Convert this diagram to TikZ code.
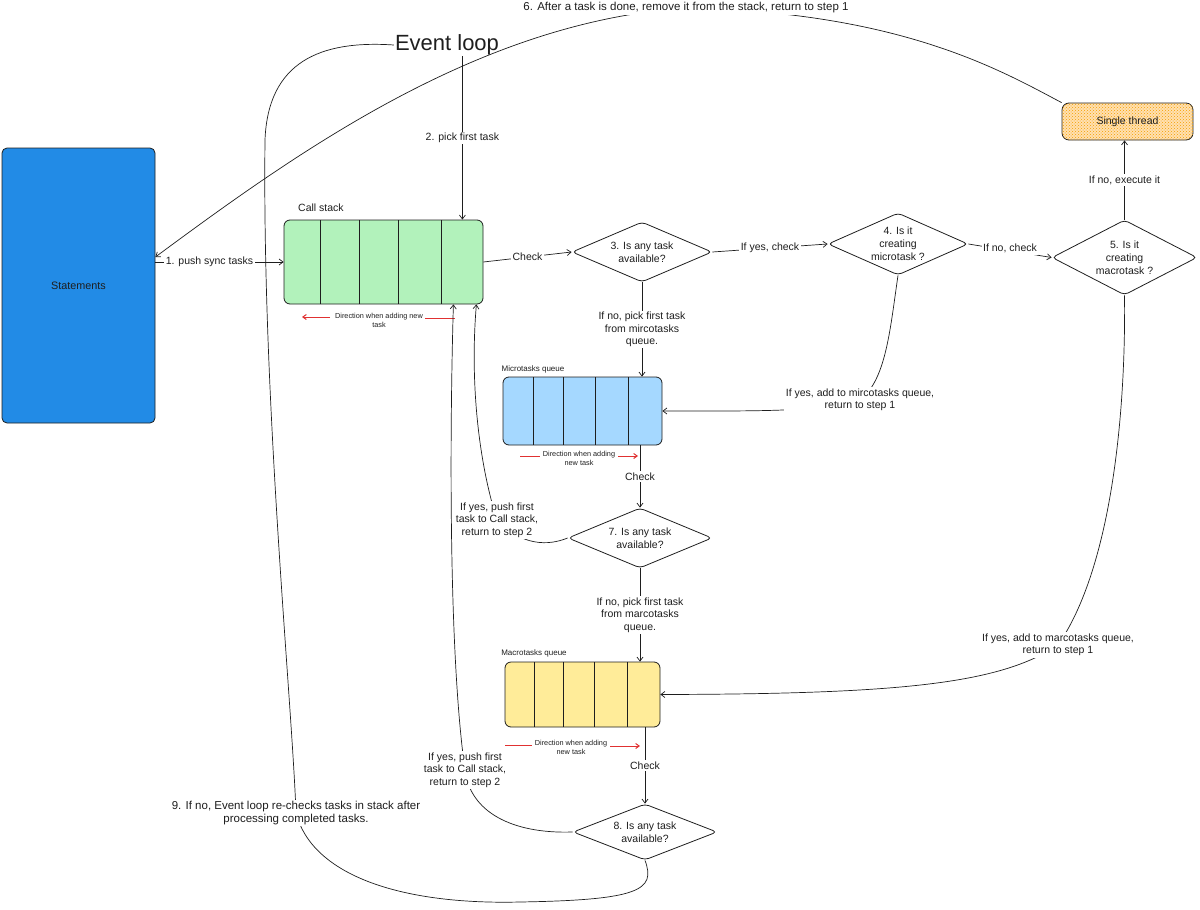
\documentclass[tikz,border=0pt]{standalone}
\usepackage{fontspec}
\setmainfont{Liberation Sans}
\usetikzlibrary{arrows.meta,shapes.geometric,patterns,calc}
\definecolor{stmtblue}{HTML}{228BE6}
\definecolor{cgreen}{HTML}{B2F2BB}
\definecolor{mblue}{HTML}{A5D8FF}
\definecolor{myellow}{HTML}{FFEC99}
\definecolor{orng}{HTML}{F59F00}
\definecolor{stfill}{HTML}{FFE0B0}
\definecolor{ln}{HTML}{1E1E1E}
\definecolor{redarrow}{HTML}{E03131}
\begin{document}
\begin{tikzpicture}[x=1pt,y=-1pt,
  every node/.style={text=ln},
  box/.style={draw=ln, line width=0.8pt, rounded corners=6pt, inner sep=0},
  dia/.style={diamond, draw=ln, line width=0.8pt, aspect=2.2, inner sep=0, rounded corners=4pt},
  dtext/.style={align=center, inner sep=0, font=\fontsize{10.5}{13}\selectfont},
  lbl/.style={fill=white, inner sep=1.5pt, align=center, font=\fontsize{10.5}{12.5}\selectfont},
  arr/.style={draw=ln, line width=0.7pt, -{Straight Barb[length=4pt,width=6pt]}},
  conn/.style={draw=ln, line width=0.7pt},
  divider/.style={draw=ln, line width=0.7pt},
  redline/.style={draw=redarrow, line width=1pt},
  redarr/.style={draw=redarrow, line width=1pt, -{Straight Barb[length=3.5pt,width=5pt]}},
  small/.style={font=\fontsize{7.3}{8.8}\selectfont, align=center, inner sep=1pt},
  qlabel/.style={font=\fontsize{8}{10}\selectfont, inner sep=0}
]
\useasboundingbox (0,0) rectangle (1200,910);

% ---------- boxes ----------
\node[box, rounded corners=5pt, fill=stmtblue, minimum width=153, minimum height=275, font=\fontsize{10.8}{12}\selectfont] (stm) at (78.5,285.5) {Statements};

\node[box, fill=cgreen, minimum width=199, minimum height=84] (cs) at (383.5,262) {};
\foreach \xx in {320,359,398,441} \draw[divider] (\xx,220) -- (\xx,304);
\node[qlabel, font=\fontsize{10.5}{12}\selectfont] (cslbl) at (321,208) {Call stack};

\node[box, fill=mblue, minimum width=159, minimum height=68] (mq) at (582.5,411) {};
\foreach \xx in {533,563,595,628} \draw[divider] (\xx,377) -- (\xx,445);
\node[qlabel] (mqlbl) at (533,369) {Microtasks queue};

\node[box, fill=myellow, minimum width=155, minimum height=65] (aq) at (582.5,694.5) {};
\foreach \xx in {534,563,594,627} \draw[divider] (\xx,662) -- (\xx,727);
\node[qlabel] (aqlbl) at (534,653) {Macrotasks queue};

\node[box, rounded corners=7pt, fill=stfill, postaction={pattern=crosshatch dots, pattern color=orng}, minimum width=131, minimum height=37] (st) at (1127.5,121.5) {};
\node[font=\fontsize{10.5}{12}\selectfont] (sttxt) at (st.center) {Single thread};

% ---------- diamonds ----------
\node[dia, minimum width=140, minimum height=60] (d3) at (642,252) {};
\node[dtext] (d3t) at (d3.center) {3. Is any task\\available?};
\node[dia, minimum width=140, minimum height=62] (d4) at (898,244) {};
\node[dtext] (d4t) at (d4.center) {4. Is it\\creating\\microtask ?};
\node[dia, minimum width=145, minimum height=75] (d5) at (1124.5,257.5) {};
\node[dtext] (d5t) at (d5.center) {5. Is it\\creating\\macrotask ?};
\node[dia, minimum width=144, minimum height=60] (d7) at (640,538) {};
\node[dtext] (d7t) at (d7.center) {7. Is any task\\available?};
\node[dia, minimum width=144, minimum height=56] (d8) at (645,832) {};
\node[dtext] (d8t) at (d8.center) {8. Is any task\\available?};

% ---------- title ----------
\node[font=\fontsize{22}{24}\selectfont, inner sep=1pt] (el) at (447,45) {Event loop};

% ---------- direction markers ----------
\draw[redarr] (330,317) -- (302,317);
\draw[redline] (425,318) -- (455,318);
\node[small] (dir1) at (379,320) {Direction when adding new\\task};

\draw[redline] (520,456) -- (540,456);
\draw[redarr] (618,456) -- (638,456);
\node[small] (dir2) at (579,458) {Direction when adding\\new task};

\draw[redline] (505,745) -- (532,745);
\draw[redarr] (610,746) -- (640,746);
\node[small] (dir3) at (571,747) {Direction when adding\\new task};

% ---------- connectors ----------
\draw[arr] (stm.east |- cs.west) -- (cs.west) node[lbl, midway, xshift=-10pt] {1. push sync tasks};

\coordinate (cstop) at ([xshift=-21pt]cs.north east);
\draw[arr] (el.south -| cstop) -- (cstop) node[lbl, midway] {2. pick first task};

\draw[arr] (cs.east) -- (d3.west) node[lbl, midway] {Check};
\draw[arr] (d3.east) -- (d4.west) node[lbl, midway] {If yes, check};
\draw[arr] (d4.east) -- (d5.west) node[lbl, midway, yshift=2pt] {If no, check};
\draw[arr] (d5.north) -- (d5.north |- st.south) node[lbl, midway] {If no, execute it};

\draw[arr] (d3.south) -- (d3.south |- mq.north) node[lbl, midway] {If no, pick first task\\from mircotasks\\queue.};

\draw[arr] (d4.south) .. controls (890,330) and (886,380) .. (860,400)
  node[lbl] {If yes, add to mircotasks queue,\\return to step 1}
  .. controls (820,412) and (760,411) .. (mq.east);

\draw[arr] (d7.north |- mq.south) -- (d7.north) node[lbl, midway] {Check};

\draw[arr] (d7.west) .. controls (548,546) and (522,546) .. (497,520)
  node[lbl] {If yes, push first\\task to Call stack,\\return to step 2}
  .. controls (478,460) and (470,380) .. ([xshift=-7pt]cs.south east);

\draw[arr] (d7.south) -- (d7.south |- aq.north) node[lbl, midway] {If no, pick first task\\from marcotasks\\queue.};

\draw[arr] (d5.south) .. controls (1126,420) and (1110,570) .. (1058,645)
  node[lbl] {If yes, add to marcotasks queue,\\return to step 1}
  .. controls (1000,684) and (900,694) .. (aq.east);

\draw[arr] (d8.north |- aq.south) -- (d8.north) node[lbl, midway] {Check};

\draw[arr] (d8.west) .. controls (512,834) and (470,812) .. (465,770)
  node[lbl] {If yes, push first\\task to Call stack,\\return to step 2}
  .. controls (448,650) and (450,420) .. ([xshift=-30pt]cs.south east);

\draw[arr] (st.north west) .. controls (1000,70) and (900,12) .. (686,8)
  node[lbl, font=\fontsize{11.5}{13}\selectfont] {6. After a task is done, remove it from the stack, return to step 1}
  .. controls (480,22) and (300,150) .. ([yshift=28.5pt]stm.east);

\draw[conn] (el.west) .. controls (320,40) and (268,62) .. (265,140)
  .. controls (262,400) and (292,700) .. (296,813)
  node[lbl, font=\fontsize{11.5}{13}\selectfont] {9. If no, Event loop re-checks tasks in stack after\\processing completed tasks.}
  .. controls (312,875) and (400,905) .. (520,902)
  .. controls (640,900) and (656,890) .. (d8.south);
\end{tikzpicture}
\end{document}
